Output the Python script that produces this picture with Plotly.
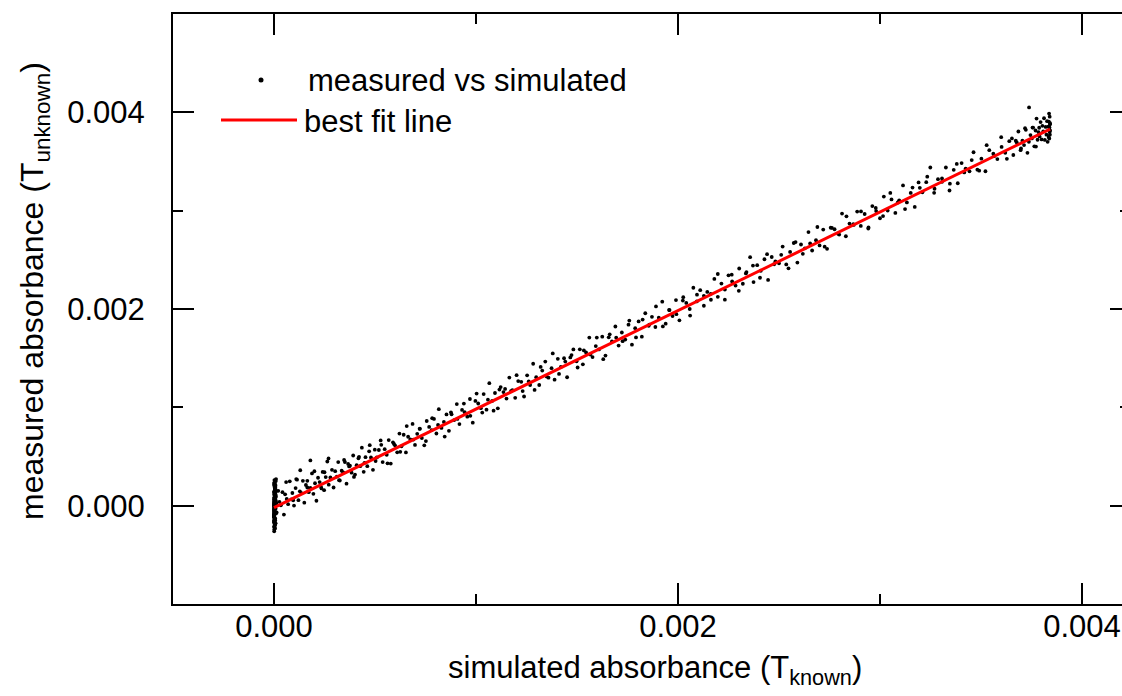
import plotly.graph_objects as go

# ---- data (absorbance units) ----
simulated = [
    0.0, 3e-6, 1e-6, 6e-6, 2e-6, 0.0, 8e-6, 4e-6, 1e-6, 5e-6,
    0.0, 9e-6, 2e-6, 7e-6, 3e-6, 0.0, 11e-6, 1e-6, 4e-6, 6e-6,
    0.0, 2e-6, 8e-6, 3e-6, 0.0, 5e-6, 1e-6, 10e-6, 4e-6, 0.0,
    7e-6, 2e-6, 3e-6, 0.0, 6e-6, 1e-6, 9e-6, 0.0, 4e-6, 2e-6,
    5e-6, 0.0, 12e-6, 3e-6, 1e-6, 7e-6, 0.0, 2e-6, 8e-6, 4e-6,
    0.0, 6e-6, 1e-6, 3e-6, 10e-6, 0.0, 5e-6, 2e-6, 9e-6, 0.0,
    1e-6, 4e-6, 7e-6, 0.0, 3e-6, 6e-6, 2e-6, 0.0, 11e-6, 1e-6,
    5e-6, 0.0, 8e-6, 2e-6, 4e-6, 0.0, 3e-6, 7e-6, 1e-6, 0.0,
    6e-6, 13e-6, 21e-6, 27e-6, 34e-6, 42e-6, 49e-6, 55e-6, 63e-6, 70e-6,
    78e-6, 85e-6, 91e-6, 99e-6, 107e-6, 114e-6, 121e-6, 128e-6, 136e-6, 143e-6,
    150e-6, 158e-6, 165e-6, 172e-6, 180e-6, 188e-6, 195e-6, 203e-6, 210e-6, 218e-6,
    226e-6, 233e-6, 241e-6, 248e-6, 256e-6, 264e-6, 271e-6, 279e-6, 287e-6, 295e-6,
    303e-6, 311e-6, 318e-6, 326e-6, 335e-6, 343e-6, 351e-6, 359e-6, 367e-6, 376e-6,
    384e-6, 392e-6, 401e-6, 409e-6, 418e-6, 427e-6, 435e-6, 444e-6, 453e-6, 462e-6,
    471e-6, 480e-6, 490e-6, 499e-6, 509e-6, 519e-6, 528e-6, 538e-6, 548e-6, 558e-6,
    568e-6, 578e-6, 589e-6, 599e-6, 610e-6, 621e-6, 631e-6, 642e-6, 653e-6, 664e-6,
    675e-6, 686e-6, 698e-6, 709e-6, 721e-6, 732e-6, 744e-6, 756e-6, 768e-6, 780e-6,
    792e-6, 804e-6, 816e-6, 829e-6, 841e-6, 854e-6, 866e-6, 879e-6, 892e-6, 905e-6,
    918e-6, 931e-6, 944e-6, 957e-6, 970e-6, 984e-6, 997e-6, 1011e-6, 1024e-6, 1038e-6,
    1052e-6, 1066e-6, 1080e-6, 1094e-6, 1108e-6, 1122e-6, 1136e-6, 1151e-6, 1165e-6, 1180e-6,
    1194e-6, 1209e-6, 1224e-6, 1238e-6, 1253e-6, 1268e-6, 1283e-6, 1298e-6, 1313e-6, 1328e-6,
    1343e-6, 1359e-6, 1374e-6, 1389e-6, 1405e-6, 1420e-6, 1436e-6, 1451e-6, 1467e-6, 1482e-6,
    1498e-6, 1514e-6, 1529e-6, 1545e-6, 1561e-6, 1577e-6, 1593e-6, 1609e-6, 1625e-6, 1641e-6,
    1657e-6, 1673e-6, 1690e-6, 1706e-6, 1722e-6, 1739e-6, 1755e-6, 1772e-6, 1788e-6, 1805e-6,
    1821e-6, 1838e-6, 1855e-6, 1871e-6, 1888e-6, 1905e-6, 1922e-6, 1939e-6, 1956e-6, 1973e-6,
    1990e-6, 2007e-6, 2024e-6, 2041e-6, 2058e-6, 2076e-6, 2093e-6, 2110e-6, 2128e-6, 2145e-6,
    2162e-6, 2180e-6, 2197e-6, 2215e-6, 2232e-6, 2250e-6, 2268e-6, 2285e-6, 2303e-6, 2321e-6,
    2339e-6, 2357e-6, 2374e-6, 2392e-6, 2410e-6, 2428e-6, 2446e-6, 2464e-6, 2482e-6, 2500e-6,
    2518e-6, 2536e-6, 2555e-6, 2573e-6, 2591e-6, 2609e-6, 2628e-6, 2646e-6, 2664e-6, 2683e-6,
    2701e-6, 2719e-6, 2738e-6, 2756e-6, 2775e-6, 2793e-6, 2812e-6, 2831e-6, 2849e-6, 2868e-6,
    2887e-6, 2905e-6, 2924e-6, 2943e-6, 2962e-6, 2981e-6, 3000e-6, 3019e-6, 3038e-6, 3057e-6,
    3076e-6, 3095e-6, 3114e-6, 3133e-6, 3152e-6, 3172e-6, 3191e-6, 3210e-6, 3229e-6, 3249e-6,
    3268e-6, 3287e-6, 3307e-6, 3326e-6, 3346e-6, 3365e-6, 3385e-6, 3404e-6, 3424e-6, 3443e-6,
    3463e-6, 3482e-6, 3502e-6, 3522e-6, 3541e-6, 3561e-6, 3581e-6, 3600e-6, 3620e-6, 3640e-6,
    3660e-6, 3672e-6, 3685e-6, 3696e-6, 3705e-6, 3713e-6, 3722e-6, 3730e-6, 3738e-6, 3745e-6,
    3752e-6, 3758e-6, 3764e-6, 3770e-6, 3775e-6, 3780e-6, 3785e-6, 3790e-6, 3795e-6, 3800e-6,
    3804e-6, 3808e-6, 3812e-6, 3816e-6, 3820e-6, 3824e-6, 3827e-6, 3830e-6, 3833e-6, 3836e-6,
    3838e-6, 3840e-6, 3842e-6, 3842e-6, 3841e-6, 3839e-6, 3837e-6, 3835e-6, 3842e-6, 3840e-6,
    322e-6, 347e-6, 372e-6, 396e-6, 421e-6, 448e-6, 474e-6, 503e-6, 531e-6, 562e-6,
    594e-6, 625e-6, 657e-6, 690e-6, 722e-6, 752e-6, 783e-6, 812e-6, 845e-6, 876e-6,
    908e-6, 940e-6, 972e-6, 1003e-6, 1031e-6, 1059e-6, 1087e-6, 1116e-6, 1144e-6, 1173e-6,
    1201e-6, 1231e-6, 1261e-6, 1290e-6, 1320e-6, 1350e-6, 1380e-6, 1411e-6, 1442e-6, 1473e-6,
    1503e-6, 1534e-6, 1566e-6, 1598e-6, 1630e-6, 1662e-6, 1694e-6, 1726e-6, 1759e-6, 1792e-6,
    1825e-6, 1858e-6, 1891e-6, 1925e-6, 1958e-6, 1992e-6, 2026e-6, 2060e-6, 2094e-6, 2128e-6,
    2163e-6, 2197e-6, 2232e-6, 2266e-6, 2301e-6, 2336e-6, 2371e-6, 2406e-6, 2441e-6, 2476e-6,
    2511e-6, 2547e-6, 2582e-6, 2618e-6, 2654e-6, 2690e-6, 2726e-6, 2762e-6, 2798e-6, 2834e-6,
    2870e-6, 2906e-6, 2942e-6, 2979e-6, 3015e-6, 3051e-6, 3088e-6, 3124e-6, 3161e-6, 3197e-6,
    3234e-6, 3270e-6, 3307e-6, 3344e-6, 3380e-6, 3417e-6, 3454e-6, 3491e-6, 3528e-6, 3565e-6,
    3602e-6, 3628e-6, 3653e-6, 3677e-6, 3698e-6, 3718e-6, 3737e-6, 3755e-6, 3772e-6, 3788e-6,
    60e-6, 95e-6, 130e-6, 165e-6, 200e-6, 235e-6, 270e-6, 110e-6, 180e-6, 250e-6,
]

measured = [
    210e-6, -80e-6, 40e-6, -150e-6, 120e-6, 10e-6, -30e-6, 180e-6, -210e-6, 70e-6,
    -110e-6, 250e-6, -20e-6, 90e-6, -170e-6, 140e-6, 30e-6, -60e-6, 220e-6, -130e-6,
    60e-6, -240e-6, 110e-6, 0.0, -90e-6, 160e-6, -40e-6, 270e-6, -190e-6, 20e-6,
    80e-6, -120e-6, 190e-6, -10e-6, 130e-6, -160e-6, 50e-6, -70e-6, 240e-6, -220e-6,
    100e-6, -50e-6, 150e-6, -140e-6, 30e-6, 200e-6, -100e-6, 10e-6, -180e-6, 170e-6,
    -30e-6, 120e-6, -260e-6, 70e-6, -80e-6, 230e-6, -200e-6, 40e-6, 90e-6, -120e-6,
    110e-6, -10e-6, 180e-6, -150e-6, 60e-6, -60e-6, 260e-6, -90e-6, 20e-6, 140e-6,
    -230e-6, 0.0, 100e-6, -40e-6, 160e-6, -170e-6, 50e-6, 210e-6, -110e-6, 80e-6,
    51e-6, -69e-6, 151e-6, 39e-6, 4e-6, 137e-6, -91e-6, 115e-6, 68e-6, 15e-6,
    248e-6, 65e-6, 129e-6, 1e-6, 179e-6, 264e-6, 56e-6, 146e-6, 128e-6, 253e-6,
    30e-6, 210e-6, 253e-6, 137e-6, 180e-6, 328e-6, 120e-6, 228e-6, 50e-6, 284e-6,
    240e-6, 189e-6, 343e-6, 158e-6, 291e-6, 449e-6, 213e-6, 287e-6, 364e-6, 185e-6,
    351e-6, 296e-6, 443e-6, 256e-6, 355e-6, 338e-6, 444e-6, 224e-6, 424e-6, 407e-6,
    336e-6, 510e-6, 316e-6, 412e-6, 482e-6, 402e-6, 590e-6, 344e-6, 493e-6, 402e-6,
    553e-6, 490e-6, 365e-6, 569e-6, 491e-6, 566e-6, 663e-6, 443e-6, 574e-6, 518e-6,
    667e-6, 428e-6, 644e-6, 614e-6, 542e-6, 733e-6, 603e-6, 721e-6, 541e-6, 701e-6,
    673e-6, 831e-6, 618e-6, 731e-6, 781e-6, 687e-6, 614e-6, 861e-6, 801e-6, 768e-6,
    882e-6, 734e-6, 981e-6, 791e-6, 852e-6, 928e-6, 761e-6, 929e-6, 870e-6, 1033e-6,
    830e-6, 974e-6, 950e-6, 905e-6, 1085e-6, 844e-6, 1065e-6, 1039e-6, 991e-6, 1135e-6,
    976e-6, 1246e-6, 1065e-6, 1146e-6, 990e-6, 1206e-6, 1155e-6, 1089e-6, 1303e-6, 1176e-6,
    1097e-6, 1267e-6, 1259e-6, 1110e-6, 1326e-6, 1227e-6, 1443e-6, 1307e-6, 1227e-6, 1374e-6,
    1465e-6, 1302e-6, 1398e-6, 1281e-6, 1493e-6, 1410e-6, 1499e-6, 1306e-6, 1508e-6, 1589e-6,
    1468e-6, 1590e-6, 1437e-6, 1558e-6, 1709e-6, 1511e-6, 1623e-6, 1589e-6, 1719e-6, 1526e-6,
    1712e-6, 1670e-6, 1822e-6, 1628e-6, 1761e-6, 1689e-6, 1841e-6, 1637e-6, 1805e-6, 1874e-6,
    1719e-6, 1957e-6, 1829e-6, 1920e-6, 1817e-6, 1912e-6, 2075e-6, 1851e-6, 1990e-6, 1929e-6,
    2091e-6, 1885e-6, 2086e-6, 2062e-6, 2000e-6, 2216e-6, 2077e-6, 2191e-6, 2033e-6, 2174e-6,
    2154e-6, 2306e-6, 2124e-6, 2259e-6, 2095e-6, 2342e-6, 2280e-6, 2238e-6, 2412e-6, 2257e-6,
    2376e-6, 2527e-6, 2274e-6, 2446e-6, 2389e-6, 2506e-6, 2296e-6, 2529e-6, 2484e-6, 2464e-6,
    2635e-6, 2453e-6, 2580e-6, 2671e-6, 2472e-6, 2656e-6, 2617e-6, 2782e-6, 2595e-6, 2699e-6,
    2647e-6, 2808e-6, 2612e-6, 2827e-6, 2811e-6, 2764e-6, 2970e-6, 2740e-6, 2869e-6, 2862e-6,
    2991e-6, 2845e-6, 2966e-6, 2830e-6, 3047e-6, 2996e-6, 2923e-6, 3143e-6, 3001e-6, 3114e-6,
    2977e-6, 3105e-6, 3257e-6, 3084e-6, 3180e-6, 3038e-6, 3287e-6, 3187e-6, 3290e-6, 3439e-6,
    3181e-6, 3320e-6, 3293e-6, 3439e-6, 3274e-6, 3415e-6, 3279e-6, 3484e-6, 3428e-6, 3400e-6,
    3594e-6, 3417e-6, 3529e-6, 3401e-6, 3615e-6, 3579e-6, 3525e-6, 3747e-6, 3589e-6, 3707e-6,
    3566e-6, 3711e-6, 3805e-6, 3615e-6, 3711e-6, 3667e-6, 3822e-6, 3588e-6, 4050e-6, 3769e-6,
    3735e-6, 3845e-6, 3654e-6, 3815e-6, 3937e-6, 3721e-6, 3798e-6, 3755e-6, 3901e-6, 3725e-6,
    3863e-6, 3806e-6, 3940e-6, 3719e-6, 3852e-6, 3773e-6, 3910e-6, 3700e-6, 3854e-6, 3906e-6,
    3734e-6, 3956e-6, 3815e-6, 3890e-6, 3773e-6, 3847e-6, 3987e-6, 3750e-6, 3878e-6, 3801e-6,
    259e-6, 465e-6, 399e-6, 292e-6, 497e-6, 436e-6, 615e-6, 454e-6, 619e-6, 431e-6,
    628e-6, 548e-6, 809e-6, 672e-6, 783e-6, 657e-6, 890e-6, 821e-6, 703e-6, 949e-6,
    882e-6, 1038e-6, 914e-6, 1140e-6, 947e-6, 1078e-6, 966e-6, 1181e-6, 1187e-6, 1164e-6,
    1327e-6, 1165e-6, 1263e-6, 1177e-6, 1411e-6, 1313e-6, 1548e-6, 1340e-6, 1465e-6, 1531e-6,
    1405e-6, 1579e-6, 1537e-6, 1709e-6, 1490e-6, 1742e-6, 1708e-6, 1673e-6, 1882e-6, 1711e-6,
    1892e-6, 1842e-6, 2026e-6, 1823e-6, 1989e-6, 1947e-6, 2120e-6, 1933e-6, 2146e-6, 2134e-6,
    2094e-6, 2356e-6, 2198e-6, 2349e-6, 2185e-6, 2362e-6, 2442e-6, 2318e-6, 2558e-6, 2455e-6,
    2551e-6, 2414e-6, 2681e-6, 2561e-6, 2666e-6, 2834e-6, 2634e-6, 2825e-6, 2757e-6, 2942e-6,
    2855e-6, 2992e-6, 2818e-6, 3027e-6, 2945e-6, 3180e-6, 3083e-6, 3016e-6, 3235e-6, 3232e-6,
    3346e-6, 3223e-6, 3328e-6, 3205e-6, 3475e-6, 3389e-6, 3514e-6, 3407e-6, 3666e-6, 3554e-6,
    3648e-6, 3527e-6, 3735e-6, 3694e-6, 3633e-6, 3838e-6, 3701e-6, 3845e-6, 3652e-6, 3843e-6,
    240e-6, 55e-6, 360e-6, 185e-6, 350e-6, 175e-6, 480e-6, 270e-6, 460e-6, 340e-6,
]

fit_x = [0.0, 0.003842]
fit_y = [-0.00002, 0.00383]

x_tick_vals = [0.0, 0.002, 0.004]
x_tick_text = ["0.000", "0.002", "0.004"]
x_minor_vals = [0.001, 0.003]
y_tick_vals = [0.0, 0.002, 0.004]
y_tick_text = ["0.000", "0.002", "0.004"]
y_minor_vals = [-0.001, 0.001, 0.003, 0.005]

legend_labels = ["measured vs simulated", "best fit line"]
x_title = "simulated absorbance (T<sub>known</sub>)"
y_title = "measured absorbance (T<sub>unknown</sub>)"

# ---- layout geometry ----
W, H = 1122, 696
L, R, T, B = 173, 0, 14, 92
PW, PH = W - L - R, H - T - B
FONT = "Liberation Sans, Arial, Helvetica, sans-serif"
FS = 31


def px(xp):
    return (xp - L) / PW


def py(yp):
    return (H - B - yp) / PH


fig = go.Figure()
fig.add_trace(go.Scatter(
    x=simulated, y=measured, mode="markers",
    marker=dict(color="black", size=3.8, line=dict(width=0)),
    showlegend=False, hoverinfo="skip",
))
fig.add_trace(go.Scatter(
    x=fit_x, y=fit_y, mode="lines",
    line=dict(color="#ff0000", width=3),
    showlegend=False, hoverinfo="skip",
))
# carrier for the right-hand tick axis
fig.add_trace(go.Scatter(x=[None], y=[None], yaxis="y2", showlegend=False, hoverinfo="skip"))

tickfont = dict(family=FONT, size=FS, color="black")

fig.update_layout(
    width=W, height=H,
    margin=dict(l=L, r=R, t=T, b=B, pad=0),
    paper_bgcolor="white", plot_bgcolor="white",
    showlegend=False,
    xaxis=dict(
        range=[-0.0005, 0.004198], showline=True, linewidth=2, linecolor="black",
        mirror="ticks", ticks="inside", ticklen=21, tickwidth=2, tickcolor="black",
        tickvals=x_tick_vals, ticktext=x_tick_text, tickfont=tickfont,
        showgrid=False, zeroline=False, ticklabelstandoff=-6,
        minor=dict(tickvals=x_minor_vals, ticks="inside", ticklen=10, tickwidth=2,
                   tickcolor="black", showgrid=False),
    ),
    yaxis=dict(
        range=[-0.001, 0.005], showline=True, linewidth=2, linecolor="black",
        mirror=False, ticks="inside", ticklen=21, tickwidth=2, tickcolor="black",
        tickvals=y_tick_vals, ticktext=y_tick_text, tickfont=tickfont,
        showgrid=False, zeroline=False, ticklabelstandoff=20,
        minor=dict(tickvals=y_minor_vals, ticks="inside", ticklen=10, tickwidth=2,
                   tickcolor="black", showgrid=False),
    ),
    yaxis2=dict(
        range=[-0.001, 0.005], overlaying="y", side="right", anchor="x",
        showline=False, ticks="inside", ticklen=12, tickwidth=2, tickcolor="black",
        tickvals=y_tick_vals, showticklabels=False, showgrid=False, zeroline=False,
        minor=dict(tickvals=[0.001, 0.003], ticks="inside", ticklen=2, tickwidth=2,
                   tickcolor="black", showgrid=False),
    ),
)

# legend (drawn manually to match the original layout)
fig.add_shape(type="circle", xref="paper", yref="paper",
              xsizemode="pixel", ysizemode="pixel",
              xanchor=px(261), yanchor=py(80), x0=-2.5, x1=2.5, y0=-2.5, y1=2.5,
              fillcolor="black", line=dict(width=0))
fig.add_shape(type="line", xref="paper", yref="paper",
              x0=px(221), x1=px(297), y0=py(120), y1=py(120),
              line=dict(color="#ff0000", width=3))
fig.add_annotation(text=legend_labels[0], xref="paper", yref="paper",
                   x=px(306), y=py(81), xanchor="left", yanchor="middle",
                   showarrow=False, font=dict(family=FONT, size=FS, color="black"))
fig.add_annotation(text=legend_labels[1], xref="paper", yref="paper",
                   x=px(302), y=py(121), xanchor="left", yanchor="middle",
                   showarrow=False, font=dict(family=FONT, size=FS, color="black"))

# axis titles
fig.add_annotation(text=x_title, xref="paper", yref="paper",
                   x=px(655), y=py(648), xanchor="center", yanchor="top",
                   showarrow=False, font=dict(family=FONT, size=FS, color="black"))
fig.add_annotation(text=y_title, xref="paper", yref="paper",
                   x=px(34), y=py(291), xanchor="center", yanchor="middle",
                   textangle=-90, showarrow=False,
                   font=dict(family=FONT, size=32, color="black"))

fig.write_html("out.html")
